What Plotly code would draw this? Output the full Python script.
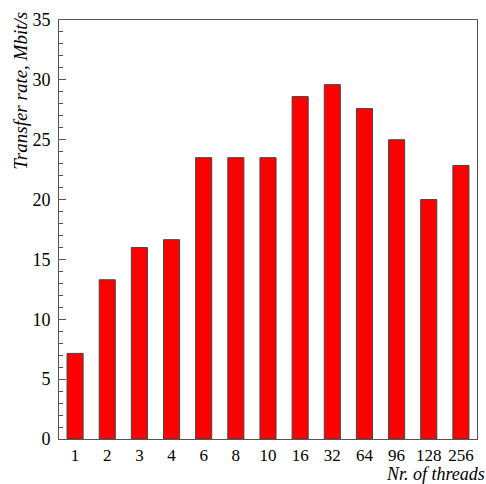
import plotly.graph_objects as go

# Measured transfer rate per thread count
threads = ["1", "2", "3", "4", "6", "8", "10", "16", "32", "64", "96", "128", "256"]
rate_mbit = [7.15, 13.3, 16.0, 16.65, 23.5, 23.5, 23.5, 28.6, 29.6, 27.6, 25.0, 20.0, 22.85]

y_ticks = [0, 5, 10, 15, 20, 25, 30, 35]

font_family = "Liberation Serif"
axis_col = "#555555"

fig = go.Figure(
    go.Bar(
        x=threads,
        y=rate_mbit,
        width=0.5,
        marker=dict(color="#ff0000", line=dict(color="#444444", width=1)),
    )
)

fig.update_layout(
    width=486,
    height=484,
    margin=dict(l=59, r=9, t=20, b=45),
    paper_bgcolor="white",
    plot_bgcolor="white",
    showlegend=False,
    font=dict(family=font_family, size=18, color="black"),
    xaxis=dict(
        type="category",
        showgrid=False,
        showline=True,
        linecolor=axis_col,
        linewidth=1,
        mirror=True,
        ticks="",
        ticklabelstandoff=1,
        tickfont=dict(size=17),
    ),
    yaxis=dict(
        range=[0, 35],
        tickvals=y_ticks,
        showgrid=False,
        showline=True,
        linecolor=axis_col,
        linewidth=1,
        mirror=True,
        ticks="inside",
        ticklen=7,
        tickcolor=axis_col,
        ticklabelstandoff=4,
        minor=dict(dtick=1, ticks="inside", ticklen=4, tickcolor=axis_col, showgrid=False),
        tickfont=dict(size=18),
        zeroline=False,
    ),
    annotations=[
        dict(
            text="<i>Nr. of threads</i>",
            xref="paper", yref="paper",
            x=1.022, y=-0.0835,
            xanchor="right", yanchor="middle",
            borderpad=0,
            showarrow=False,
            font=dict(size=18, family=font_family),
        ),
        dict(
            text="<i>Transfer rate, Mbit/s</i>",
            xref="paper", yref="paper",
            x=-0.093, y=1.025,
            xanchor="center", yanchor="top",
            textangle=-90,
            showarrow=False,
            font=dict(size=19, family=font_family),
        ),
    ],
)

fig.write_html("out.html")
